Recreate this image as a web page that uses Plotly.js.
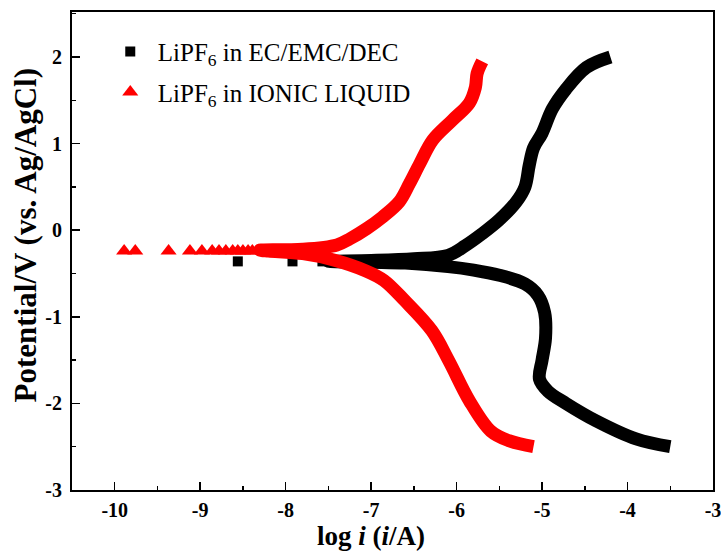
<!DOCTYPE html>
<html>
<head>
<meta charset="utf-8">
<script src="https://cdn.plot.ly/plotly-3.0.1.min.js"></script>
<style>html,body{margin:0;padding:0;background:#fff;}</style>
</head>
<body>
<div id="chart" style="width:721px;height:551px;"></div>
<script>
// LiPF6 in EC/EMC/DEC : cathodic branch then anodic branch (log i, potential)
const ecLogI = [-3.5, -3.9, -4.37, -4.72, -4.93, -5.03, -5.0, -4.96, -4.97, -5.05, -5.2, -5.5, -5.8, -6.1, -6.6, -7.0, -7.5,
                -7.0, -6.5, -6.1, -5.9, -5.7, -5.5, -5.3, -5.2, -5.15, -5.1, -5.0, -4.88, -4.72, -4.48, -4.2];
const ecPot  = [-2.5, -2.41, -2.2, -2.0, -1.86, -1.72, -1.5, -1.25, -0.95, -0.75, -0.62, -0.52, -0.46, -0.42, -0.38, -0.37, -0.36,
                -0.35, -0.33, -0.29, -0.18, -0.04, 0.12, 0.33, 0.5, 0.75, 0.95, 1.12, 1.4, 1.63, 1.88, 2.0];
const ecSparseLogI = [-8.56, -7.92, -7.57];
const ecSparsePot  = [-0.36, -0.36, -0.36];

// LiPF6 in IONIC LIQUID
const ilLogI = [-5.1, -5.39, -5.6, -5.85, -6.09, -6.29, -6.61, -6.85, -7.06, -7.45, -7.8, -8.2, -8.3,
                -7.8, -7.4, -7.25, -7.05, -6.87, -6.67, -6.55, -6.43, -6.28, -6.05, -5.85, -5.78, -5.76, -5.7];
const ilPot  = [-2.5, -2.43, -2.32, -1.97, -1.51, -1.16, -0.81, -0.58, -0.47, -0.34, -0.27, -0.24, -0.23,
                -0.22, -0.17, -0.1, 0.02, 0.15, 0.33, 0.54, 0.77, 1.04, 1.27, 1.47, 1.65, 1.81, 1.95];
const ilSparseLogI = [-9.89, -9.76, -9.37, -9.12, -8.98, -8.86, -8.78, -8.70, -8.62, -8.56, -8.50, -8.44, -8.39];
const ilSparsePot  = [-0.24, -0.24, -0.24, -0.24, -0.24, -0.24, -0.24, -0.24, -0.24, -0.24, -0.24, -0.24, -0.24];

const xTickVals = [-10, -9, -8, -7, -6, -5, -4, -3];
const xTickText = ['-10', '-9', '-8', '-7', '-6', '-5', '-4', '-3'];
const yTickVals = [-3, -2, -1, 0, 1, 2];
const yTickText = ['-3', '-2', '-1', '0', '1', '2'];

const xTitle = '<b>log <i>i</i> (<i>i</i>/A)</b>';
const yTitle = '<b>Potential/V (vs. Ag/AgCl)</b>';

const serif = 'Liberation Serif, Times New Roman, serif';

const traces = [
  {x: ecLogI, y: ecPot, mode: 'lines', line: {color: '#000', width: 13, shape: 'spline', smoothing: 1},
   showlegend: false, hoverinfo: 'skip', legendgroup: 'a'},
  {x: ecSparseLogI, y: ecSparsePot, mode: 'markers', name: 'LiPF<sub>6</sub> in EC/EMC/DEC', legendgroup: 'a',
   marker: {symbol: 'square', color: '#000', size: 10}},
  {x: ilLogI, y: ilPot, mode: 'lines', line: {color: '#ff0000', width: 13, shape: 'spline', smoothing: 1},
   showlegend: false, hoverinfo: 'skip', legendgroup: 'b'},
  {x: ilSparseLogI, y: ilSparsePot, mode: 'markers', name: 'LiPF<sub>6</sub> in IONIC LIQUID', legendgroup: 'b',
   marker: {symbol: 'triangle-up', color: '#ff0000', size: 14}}
];

const axisCommon = {
  showline: true, linecolor: '#000', linewidth: 2, mirror: true,
  showgrid: false, zeroline: false,
  ticks: 'inside', ticklen: 8, tickwidth: 1.5, tickcolor: '#000',
  ticklabeloverflow: 'allow',
  tickfont: {family: serif, size: 20, color: '#000', weight: 'bold'}
};

const layout = {
  width: 721, height: 551,
  margin: {l: 72, r: 8, t: 12, b: 61},
  paper_bgcolor: '#fff', plot_bgcolor: '#fff',
  font: {family: serif, color: '#000'},
  xaxis: Object.assign({}, axisCommon, {
    range: [-10.5, -3], tickvals: xTickVals, ticktext: xTickText, ticklabelstandoff: 1,
    minor: {ticks: 'inside', ticklen: 4, tickwidth: 1.5, tickcolor: '#000', dtick: 0.5, tick0: 0}
  }),
  yaxis: Object.assign({}, axisCommon, {
    range: [-3, 2.52], tickvals: yTickVals, ticktext: yTickText, ticklabelstandoff: 4,
    minor: {ticks: 'inside', ticklen: 4, tickwidth: 1.5, tickcolor: '#000', dtick: 0.5, tick0: 0}
  }),
  annotations: [
    {text: xTitle, xref: 'paper', yref: 'paper', x: 0.466, y: -0.097, xanchor: 'center', yanchor: 'middle',
     showarrow: false, font: {family: serif, size: 27, color: '#000'}},
    {text: yTitle, xref: 'paper', yref: 'paper', x: -0.073, y: 0.533, xanchor: 'center', yanchor: 'middle',
     textangle: -90, showarrow: false, font: {family: serif, size: 31, color: '#000'}}
  ],
  legend: {
    x: 0.048, y: 0.965, xanchor: 'left', yanchor: 'top',
    bgcolor: 'rgba(0,0,0,0)', borderwidth: 0,
    font: {family: serif, size: 25, color: '#000'},
    traceorder: 'grouped', tracegroupgap: 5, itemwidth: 45
  },
  showlegend: true
};

Plotly.newPlot('chart', traces, layout, {displayModeBar: false, staticPlot: true});
</script>
</body>
</html>
